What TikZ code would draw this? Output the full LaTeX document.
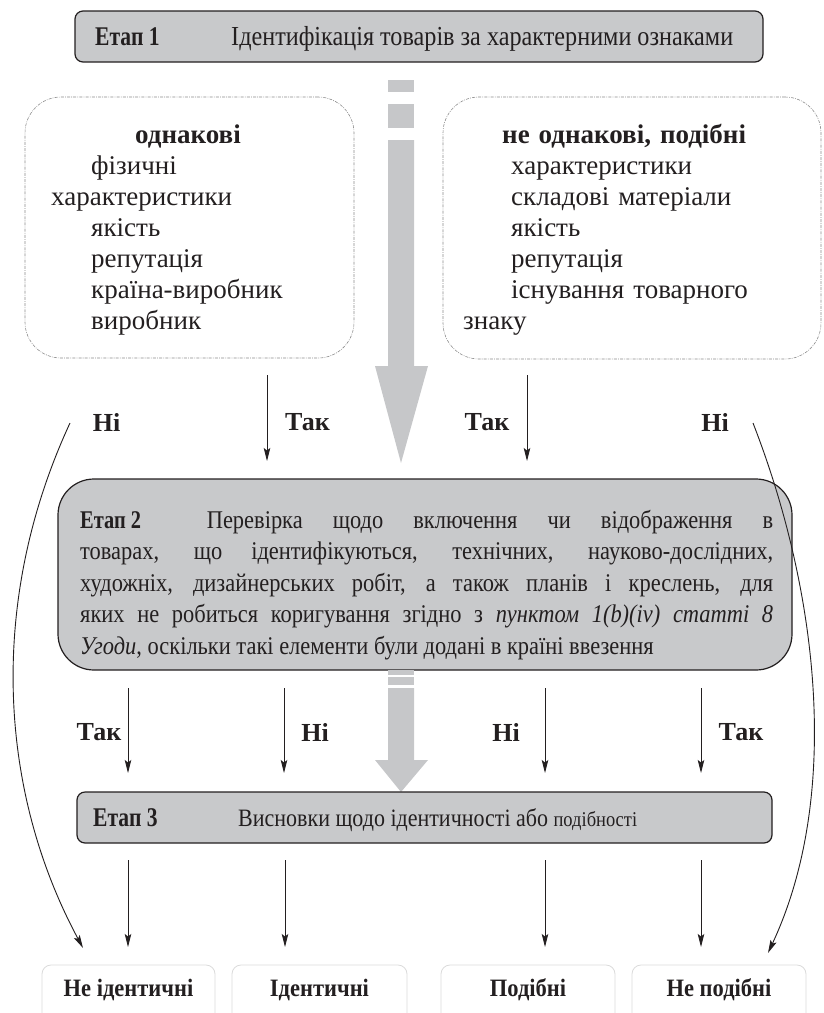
\documentclass[tikz,border=0pt]{standalone}
\usepackage{fontspec}
\setmainfont{Liberation Serif}
\newfontfamily\condserif{Liberation Serif}[FakeStretch=0.88]
\newfontfamily\condbold{Liberation Serif Bold}[FakeStretch=0.8]
\newfontfamily\outbold{Liberation Serif Bold}[FakeStretch=0.9]
\usetikzlibrary{arrows.meta}

\definecolor{stagegray}{RGB}{200,201,203}
\definecolor{arrowgray}{RGB}{198,199,201}
\definecolor{inkc}{RGB}{35,31,32}
\definecolor{framegray}{RGB}{140,140,140}
\definecolor{outgray}{RGB}{218,218,218}

\tikzset{
  stagebox/.style={draw=inkc, line width=1.2pt, fill=stagegray, rounded corners=8pt,
    rectangle, inner sep=0pt},
  featbox/.style={draw=framegray, line width=0.6pt, rounded corners=36pt, rectangle,
    dash pattern=on 3pt off 1.2pt on 0.8pt off 1.2pt, inner sep=0pt},
  outbox/.style={draw=outgray, line width=0.8pt, rounded corners=9pt, rectangle, inner sep=0pt},
  flow/.style={draw=inkc, line width=0.9pt, -{Stealth[length=13pt,width=6.5pt,inset=2.5pt]}},
  answer/.style={font=\fontsize{26}{30}\selectfont\bfseries, text=inkc, inner sep=0pt},
  stagetext/.style={font=\condserif\fontsize{25}{30}\selectfont, text=inkc, inner sep=0pt, anchor=base west},
  stagelabel/.style={font=\condbold\fontsize{27}{30}\selectfont, text=inkc, inner sep=0pt, anchor=base west},
  feattext/.style={font=\fontsize{27}{31}\selectfont, text=inkc, inner sep=0pt, anchor=base west,
    text width=370pt, align=left},
  outtext/.style={font=\outbold\fontsize{25}{28}\selectfont, text=inkc, inner sep=0pt},
  bigarrow/.style={fill=arrowgray, draw=none}
}

\begin{document}
\begin{tikzpicture}[x=1pt,y=-1pt]
\useasboundingbox (0,0) rectangle (824,1013);

% ---- stage 1
\node[stagebox, minimum width=688pt, minimum height=51pt] (s1) at (419,36.5) {};
\node[stagelabel] (s1a) at (95,45) {Етап 1};
\node[stagetext, font=\condserif\fontsize{27.5}{30}\selectfont] (s1b) at (231,45)
  {Ідентифікація товарів за характерними ознаками};

% ---- broken wide arrow from stage 1 down to stage 2
\fill[bigarrow] (388,80) rectangle (414,92);
\fill[bigarrow] (388,104) rectangle (414,128);
\fill[bigarrow] (388,140) -- (414,140) -- (414,366) -- (428,366) -- (401,463)
  -- (375,366) -- (388,366) -- cycle;

% ---- feature boxes
\node[featbox, minimum width=329pt, minimum height=261pt] (f1) at (189.5,227.5) {};
\node[feattext] (f1t) at (51,143) {%
  \hspace*{84pt}\textbf{однакові}\\
  \hspace*{40pt}фізичні\\
  характеристики\\
  \hspace*{40pt}якість\\
  \hspace*{40pt}репутація\\
  \hspace*{40pt}країна-виробник\\
  \hspace*{40pt}виробник};

\node[featbox, minimum width=378pt, minimum height=262pt] (f2) at (632,228) {};
\node[feattext] (f2t) at (463,143) {%
  \hspace*{39pt}\textbf{не однакові, подібні}\\
  \hspace*{48pt}характеристики\\
  \hspace*{48pt}складові матеріали\\
  \hspace*{48pt}якість\\
  \hspace*{48pt}репутація\\
  \hspace*{48pt}існування товарного\\
  знаку};

% ---- stage 2
\node[stagebox, rounded corners=36pt, minimum width=734pt, minimum height=191pt] (s2) at (425,574.5) {};
\node[stagetext, text width=693pt, align=justify,
  font=\condserif\fontsize{25.5}{31.5}\selectfont] (s2t) at (80,528) {%
  \mbox{\condbold Етап 2}\hspace{1.4em} Перевірка щодо включення чи відображення в\linebreak
  товарах, що ідентифікуються, технічних, науково-дослідних,\linebreak
  художніх, дизайнерських робіт, а також планів і креслень, для\linebreak
  яких не робиться коригування згідно з \textit{пунктом 1(b)(iv) статті 8}\linebreak
  \textit{Угоди}, оскільки такі елементи були додані в країні ввезення};

% ---- answers between the feature boxes and stage 2
\coordinate (u1s) at (267,375); \coordinate (u1e) at (267,461);
\coordinate (u2s) at (527,375); \coordinate (u2e) at (527,461);
\draw[flow] (u1s) -- (u1e);
\draw[flow] (u2s) -- (u2e);
\node[answer] (l1) at (106.5,422) {Ні};
\node[answer] (l2) at (307.5,422) {Так};
\node[answer] (l3) at (487,422) {Так};
\node[answer] (l4) at (715,422) {Ні};

% ---- bypass curves to the outer results
\coordinate (c1s) at (70,423); \coordinate (c1e) at (83,948);
\coordinate (c2s) at (753,423); \coordinate (c2e) at (768,953);
\draw[flow] (c1s) .. controls (-12,600) and (-2,790) .. (c1e);
\draw[flow] (c2s) .. controls (818,590) and (842,795) .. (c2e);

% ---- broken wide arrow from stage 2 down to stage 3
\fill[bigarrow] (388,670) rectangle (414,675);
\fill[bigarrow] (388,677) rectangle (414,685);
\fill[bigarrow] (388,688) -- (414,688) -- (414,760) -- (428,760) -- (401,792)
  -- (375,760) -- (388,760) -- cycle;

% ---- answers between stage 2 and stage 3
\coordinate (m1s) at (128,688); \coordinate (m1e) at (128,773);
\coordinate (m2s) at (284,688); \coordinate (m2e) at (284,773);
\coordinate (m3s) at (545,688); \coordinate (m3e) at (545,773);
\coordinate (m4s) at (701,688); \coordinate (m4e) at (701,773);
\draw[flow] (m1s) -- (m1e);
\draw[flow] (m2s) -- (m2e);
\draw[flow] (m3s) -- (m3e);
\draw[flow] (m4s) -- (m4e);
\node[answer] (k1) at (99,732) {Так};
\node[answer] (k2) at (315,732) {Ні};
\node[answer] (k3) at (506,732) {Ні};
\node[answer] (k4) at (741,732) {Так};

% ---- stage 3
\node[stagebox, minimum width=695pt, minimum height=51pt] (s3) at (424.5,817.5) {};
\node[stagelabel] (s3a) at (93,826) {Етап 3};
\node[stagetext] (s3b) at (238,826) {Висновки щодо ідентичності або {\fontsize{21}{24}\selectfont подібності}};

% ---- arrows to the results
\coordinate (b1s) at (128,860); \coordinate (b1e) at (128,947);
\coordinate (b2s) at (285,860); \coordinate (b2e) at (285,947);
\coordinate (b3s) at (545,860); \coordinate (b3e) at (545,947);
\coordinate (b4s) at (701,860); \coordinate (b4e) at (701,947);
\draw[flow] (b1s) -- (b1e);
\draw[flow] (b2s) -- (b2e);
\draw[flow] (b3s) -- (b3e);
\draw[flow] (b4s) -- (b4e);

% ---- results (boxes run past the lower edge)
\begin{scope}
\clip (0,0) rectangle (824,1013);
\node[outbox, minimum width=173pt, minimum height=66pt] (o1) at (128.5,998) {};
\node[outbox, minimum width=175pt, minimum height=66pt] (o2) at (319.5,998) {};
\node[outbox, minimum width=174pt, minimum height=66pt] (o3) at (528,998) {};
\node[outbox, minimum width=174pt, minimum height=66pt] (o4) at (719,998) {};
\end{scope}
\node[outtext] (o1t) at (128.5,990) {Не ідентичні};
\node[outtext] (o2t) at (319.5,990) {Ідентичні};
\node[outtext] (o3t) at (528,990) {Подібні};
\node[outtext] (o4t) at (719,990) {Не подібні};
\end{tikzpicture}
\end{document}
